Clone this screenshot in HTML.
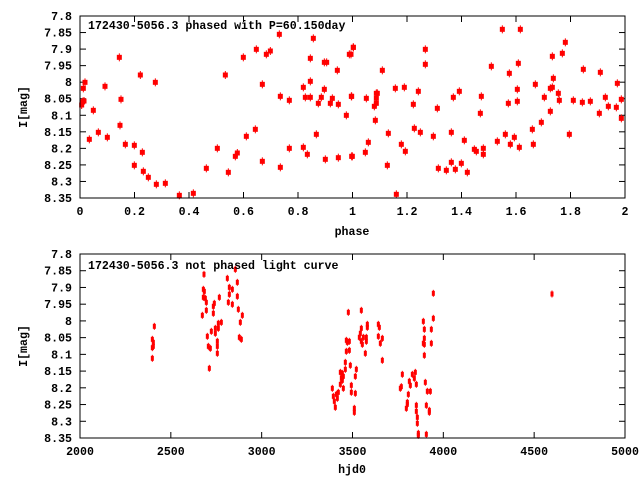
<!DOCTYPE html>
<html><head><style>
body{margin:0;background:#fff;}
svg text{font-family:"Liberation Mono",monospace;font-weight:bold;font-size:11.6px;fill:#000;}
</style></head><body>
<svg id="s" width="640" height="480" xmlns="http://www.w3.org/2000/svg">
<rect width="640" height="480" fill="#fff"/>
<g id="g"></g>
<rect x="80" y="16" width="545" height="182" fill="none" stroke="#000" stroke-width="1"/>
<rect x="80" y="254" width="545" height="184" fill="none" stroke="#000" stroke-width="1"/>
<g text-anchor="end">
<text x="72" y="20">7.8</text><text x="72" y="36.5">7.85</text><text x="72" y="53">7.9</text><text x="72" y="69.6">7.95</text><text x="72" y="86">8</text><text x="72" y="102.7">8.05</text><text x="72" y="119.3">8.1</text><text x="72" y="135.8">8.15</text><text x="72" y="152.4">8.2</text><text x="72" y="168.9">8.25</text><text x="72" y="185.5">8.3</text><text x="72" y="202">8.35</text>
<text x="72" y="258">7.8</text><text x="72" y="274.7">7.85</text><text x="72" y="291.5">7.9</text><text x="72" y="308.2">7.95</text><text x="72" y="324.9">8</text><text x="72" y="341.6">8.05</text><text x="72" y="358.4">8.1</text><text x="72" y="375.1">8.15</text><text x="72" y="391.8">8.2</text><text x="72" y="408.5">8.25</text><text x="72" y="425.3">8.3</text><text x="72" y="442">8.35</text>
</g>
<g text-anchor="middle">
<text x="80" y="215">0</text><text x="134.5" y="215">0.2</text><text x="189" y="215">0.4</text><text x="243.5" y="215">0.6</text><text x="298" y="215">0.8</text><text x="352.5" y="215">1</text><text x="407" y="215">1.2</text><text x="461.5" y="215">1.4</text><text x="516" y="215">1.6</text><text x="570.5" y="215">1.8</text><text x="625" y="215">2</text>
<text x="80" y="455">2000</text><text x="170.8" y="455">2500</text><text x="261.7" y="455">3000</text><text x="352.5" y="455">3500</text><text x="443.3" y="455">4000</text><text x="534.2" y="455">4500</text><text x="625" y="455">5000</text>
<text x="352" y="235">phase</text><text x="352" y="473">hjd0</text>
<text transform="translate(27,107) rotate(-90)">I[mag]</text>
<text transform="translate(27,346) rotate(-90)">I[mag]</text>
</g>
<text x="88" y="29">172430-5056.3 phased with P=60.150day</text>
<text x="88" y="269">172430-5056.3 not phased light curve</text>
</svg>
<script>
var g=document.getElementById('g'),h='';
function L(a,b,c,d){h+='<line x1="'+a+'" y1="'+b+'" x2="'+c+'" y2="'+d+'" stroke="#000"/>';}
for(var i=1;i<11;i++){var y=16+i*182/11;L(80,y,86,y);L(625,y,619,y);var y2=254+i*184/11;L(80,y2,86,y2);L(625,y2,619,y2);}
for(var i=1;i<10;i++){var x=80+i*54.5;L(x,198,x,192);L(x,16,x,22);}
for(var i=1;i<6;i++){var x=80+i*90.83;L(x,438,x,432);L(x,254,x,260);}
var A=[[35,300],[38,290],[40,250],[45,232],[42,288],[58,403],[70,316],[85,382],[105,244],[112,397],[148,157],[150,361],[153,283],[166,418],[193,421],[193,481],[211,210],[217,442],[220,499],[235,517],[256,232],[259,538],[286,535],[328,571],[370,565],[409,490],[442,430],[466,210],[475,502],[496,454],[502,444],[520,157],[529,394],[556,373],[559,133],[577,238],[577,469],[589,148],[601,138],[628,88],[631,274],[631,487],[658,286],[658,430],[700,247],[700,427],[706,277],[712,448],[721,160],[721,229],[721,277],[730,100],[739,388],[745,295],[754,277],[763,253],[763,172],[766,463],[770,172],[781,295],[787,280],[802,196],[805,298],[805,458],[829,331],[838,148],[844,274],[847,454],[850,127]];
var B=[[3,148],[10,127],[5,274],[5,454],[46,442],[49,280],[55,412],[73,304],[76,346],[79,265],[79,280],[79,295],[82,265],[97,196],[112,481],[115,385],[136,250],[139,568],[154,418],[163,247],[166,439],[190,298],[193,370],[205,259],[211,382],[226,133],[226,178],[250,394],[262,310],[265,490],[289,496],[304,472],[304,382],[310,277],[316,493],[328,259],[334,475],[343,406],[352,502],[373,433],[379,439],[391,325],[394,274],[400,430],[400,448],[424,184],[442,409],[457,73],[466,388],[475,295],[478,205],[481,418],[493,397],[502,253],[502,289],[505,175],[508,427],[511,73],[547,373],[550,418],[556,238],[574,352],[583,277],[601,250],[601,319],[607,154],[607,247],[610,220],[625,265],[628,286],[637,145],[646,112],[658,388],[670,286],[697,292],[700,193],[721,289],[748,325],[751,202],[766,277],[775,304],[799,307],[802,235],[814,283],[814,340]];
function big(x,y){h+='<rect x="'+(x-2.5)+'" y="'+(y-2.5)+'" width="5" height="5" fill="#f00"/><line x1="'+x+'" y1="'+(y-4)+'" x2="'+x+'" y2="'+(y+4)+'" stroke="#f00"/>';}
A.forEach(function(p){big(70+p[0]/3,5+p[1]/3);});
B.forEach(function(p){big(350+p[0]/3,5+p[1]/3);});
var C=[[192,58],[286,43],[262,70],[292,82],[190,103],[193,109],[268,97],[277,103],[190,127],[196,130],[199,142],[238,127],[268,118],[292,124],[223,145],[220,154],[265,142],[277,148],[199,166],[295,163],[187,181],[220,175],[307,181],[43,214],[244,202],[235,205],[301,202],[214,229],[226,220],[235,220],[226,235],[202,244],[37,253],[40,262],[298,247],[304,253],[232,259],[40,274],[37,278],[205,274],[211,280],[232,274],[232,295],[37,310],[208,340]];
var D=[[340,40],[85,97],[124,91],[340,115],[310,124],[142,133],[142,142],[175,133],[178,142],[124,145],[121,160],[118,172],[130,172],[139,172],[124,184],[127,193],[139,184],[175,169],[187,175],[181,190],[79,181],[88,184],[82,187],[313,148],[334,148],[313,175],[310,190],[313,193],[334,190],[79,214],[88,211],[136,220],[313,226],[187,241],[76,247],[91,256],[76,268],[109,268],[61,277],[67,280],[70,289],[64,295],[67,301],[106,289],[247,283],[277,283],[286,277],[283,295],[268,304],[271,316],[289,313],[316,307],[61,313],[94,316],[37,325],[70,325],[241,325],[244,320],[55,337],[49,343],[40,349],[52,355],[94,337],[106,340],[265,343],[43,364],[262,367],[262,373],[322,334],[331,334],[46,382],[103,385],[103,397],[259,385],[289,376],[319,376],[289,394],[328,391],[328,397],[292,412],[292,430],[295,460],[295,466],[319,463]];
function sm(x,y){h+='<rect x="'+(x-1.5)+'" y="'+(y-2.5)+'" width="3" height="5" fill="#f00"/><line x1="'+x+'" y1="'+(y-3.5)+'" x2="'+x+'" y2="'+(y+3.5)+'" stroke="#f00"/>';}
C.forEach(function(p){sm(140+p[0]/3,255+p[1]/3);});
D.forEach(function(p){sm(320+p[0]/3,280+p[1]/3);});
sm(552,294);
g.innerHTML=h;
</script>
</body></html>
